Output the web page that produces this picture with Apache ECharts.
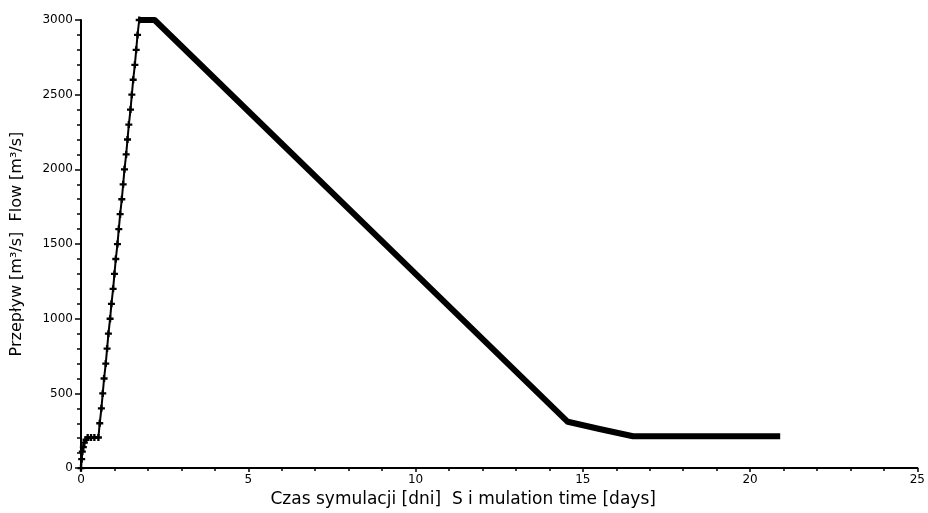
<!DOCTYPE html>
<html>
<head>
<meta charset="utf-8">
<script src="https://cdn.jsdelivr.net/npm/echarts@6/dist/echarts.min.js"></script>
<style>
html,body{margin:0;padding:0;background:#fff;}
#chart{width:928px;height:513px;}
</style>
</head>
<body>
<div id="chart"></div>
<script>
// Rising limb (hydrograph build-up), days and m3/s
var riseTime = [0, 0.02, 0.04, 0.07, 0.10, 0.15, 0.20, 0.30, 0.40, 0.52, 0.56, 0.61, 0.65, 0.69, 0.74, 0.78, 0.82, 0.87, 0.91, 0.96, 1.00, 1.04, 1.09, 1.13, 1.17, 1.22, 1.26, 1.30, 1.35, 1.39, 1.43, 1.48, 1.52, 1.56, 1.61, 1.65, 1.69, 1.74];
var riseFlow = [0, 60, 110, 140, 170, 190, 205, 205, 205, 205, 300, 400, 500, 600, 700, 800, 900, 1000, 1100, 1200, 1300, 1400, 1500, 1600, 1700, 1800, 1900, 2000, 2100, 2200, 2300, 2400, 2500, 2600, 2700, 2800, 2900, 3000];
// Falling limb
var fallTime = [1.74, 2.20, 14.55, 15.50, 16.50, 20.90];
var fallFlow = [3000, 3000, 310, 262, 213, 213];

var xMin = 0, xMax = 25, xStep = 5;
var yMin = 0, yMax = 3000, yStep = 500;
var xName = 'Czas symulacji [dni]  S i mulation time [days]';
var yName = 'Przepływ [m³/s]  Flow [m³/s]';

function pairs(a, b) { return a.map(function (v, i) { return [v, b[i]]; }); }

var chart = echarts.init(document.getElementById('chart'), null, {renderer: 'canvas'});
var font = 'DejaVu Sans, Liberation Sans, Arial, sans-serif';
chart.setOption({
  backgroundColor: '#ffffff',
  animation: false,
  grid: {left: 81, right: 10, top: 20, bottom: 43, containLabel: false},
  xAxis: {
    type: 'value', min: xMin, max: xMax, interval: xStep,
    name: xName, nameLocation: 'middle', nameGap: 18,
    nameTextStyle: {color: '#000', fontSize: 17, fontFamily: font, padding: [0, 72, 0, 0]},
    axisLine: {show: true, onZero: false, lineStyle: {color: '#000', width: 2}},
    axisTick: {show: true, inside: false, length: 4, lineStyle: {color: '#000', width: 1.5}},
    minorTick: {show: true, splitNumber: 5, length: 3, lineStyle: {color: '#000', width: 1.5}},
    axisLabel: {color: '#000', fontSize: 12, fontFamily: font, margin: 6},
    splitLine: {show: false}
  },
  yAxis: {
    type: 'value', min: yMin, max: yMax, interval: yStep,
    name: yName, nameLocation: 'middle', nameGap: 56, nameRotate: 90,
    nameTextStyle: {color: '#000', fontSize: 16, fontFamily: font},
    axisLine: {show: true, onZero: false, lineStyle: {color: '#000', width: 2}},
    axisTick: {show: true, inside: false, length: 6, lineStyle: {color: '#000', width: 1.5}},
    minorTick: {show: true, splitNumber: 5, length: 4, lineStyle: {color: '#000', width: 1.5}},
    axisLabel: {color: '#000', fontSize: 12, fontFamily: font, margin: 8,
      formatter: function (v) { return String(v); }},
    splitLine: {show: false}
  },
  series: [
    {
      type: 'line', data: pairs(fallTime, fallFlow), showSymbol: false, symbol: 'none',
      lineStyle: {color: '#000', width: 6, join: 'round'}, z: 2
    },
    {
      type: 'line', data: pairs(riseTime, riseFlow),
      symbol: 'path://M2,0H4V2H6V4H4V6H2V4H0V2H2Z', symbolSize: 7, showSymbol: true,
      itemStyle: {color: '#000'},
      lineStyle: {color: '#000', width: 2}, z: 3
    }
  ]
});
</script>
</body>
</html>
